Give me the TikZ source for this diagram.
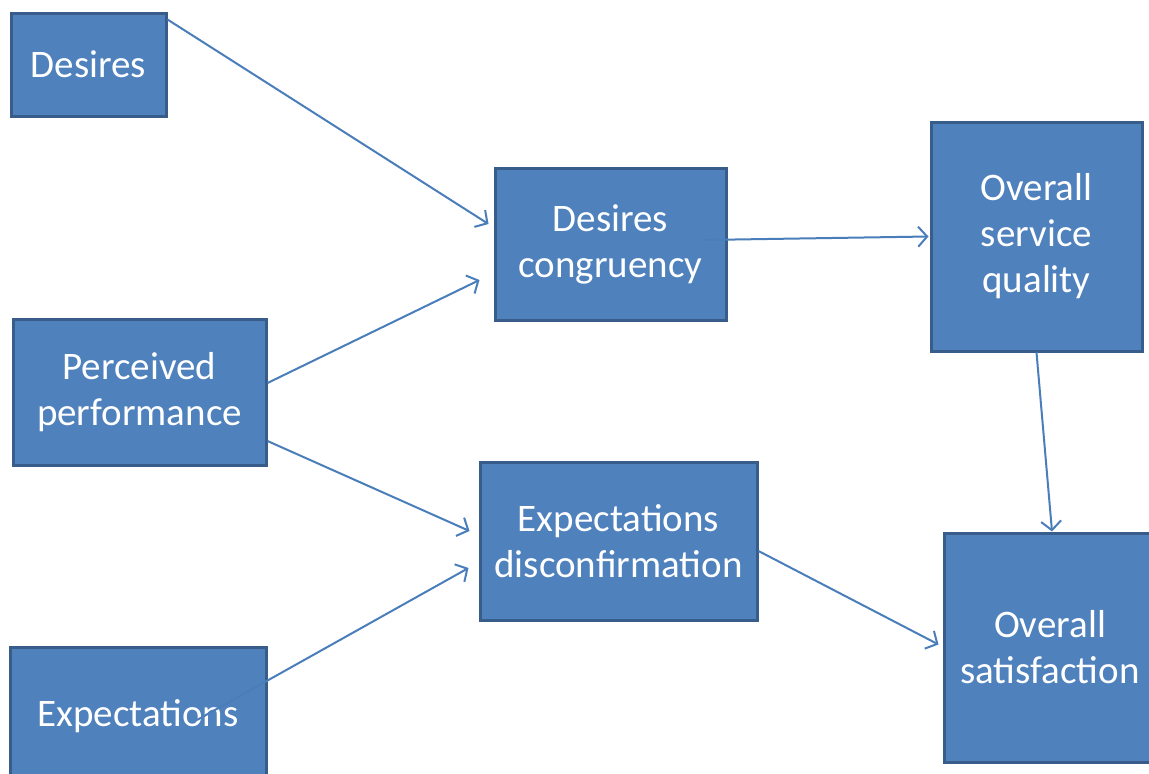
\documentclass[tikz,border=0pt]{standalone}
\usepackage{fontspec}
\setmainfont{Carlito}
\usetikzlibrary{arrows.meta,calc}
\definecolor{boxfill}{HTML}{4F81BD}
\definecolor{boxedge}{HTML}{385D8A}
\definecolor{linkcol}{HTML}{4A7EBB}
\tikzset{
  blk/.style={draw=boxedge, fill=boxfill, line width=3pt, text=white,
    align=center, inner sep=0pt, font=\fontsize{39}{46}\selectfont},
  link/.style={draw=linkcol, line width=2pt,
    -{Straight Barb[length=9pt,width=20pt,line width=2pt]}},
}
\begin{document}
\begin{tikzpicture}[x=1pt,y={(0pt,-1pt)}]
\clip (0,0) rectangle (1149,774);
\fill[white] (0,0) rectangle (1149,774);
% boxes
\node[blk, minimum width=155pt, minimum height=103pt] (desires) at (88.5,64.5) {Desires};
\node[blk, minimum width=253pt, minimum height=146pt] (perf) at (139.5,392) {Perceived\\performance};
\node[blk, minimum width=256pt, minimum height=138pt] (expect) at (138,716) {Expectations};
\node[blk, minimum width=231pt, minimum height=152pt] (dcong) at (610.5,244) {Desires\\congruency};
\node[blk, minimum width=277pt, minimum height=158pt] (edisc) at (618.5,541) {Expectations\\disconfirmation};
\node[blk, minimum width=211pt, minimum height=229pt] (osq) at (1036.5,236.5) {Overall\\service\\quality};
\node[blk, minimum width=212pt, minimum height=229pt] (osat) at (1050,647.5) {Overall\\satisfaction};
% connectors
\draw[link] ($(desires.north east)+(0,8)$) -- ($(dcong.west)+(-5,-20)$);
\draw[link] ($(perf.east)+(0,-9)$) -- ($(dcong.west)+(-14,36)$);
\draw[link] ($(perf.east)+(0,49)$) -- ($(edisc.west)+(-9,-10)$);
\draw[link] ($(expect.center)+(59,4)$) -- ($(edisc.west)+(-10,27)$);
\draw[link] ($(dcong.center)+(92,-4)$) -- ($(osq.west)+(-1,0)$);
\draw[link] ($(edisc.east)+(0,10)$) -- ($(osat.west)+(-4,-3)$);
\draw[link] (osq.south) -- ($(osat.north)+(2,0)$);
\end{tikzpicture}
\end{document}
